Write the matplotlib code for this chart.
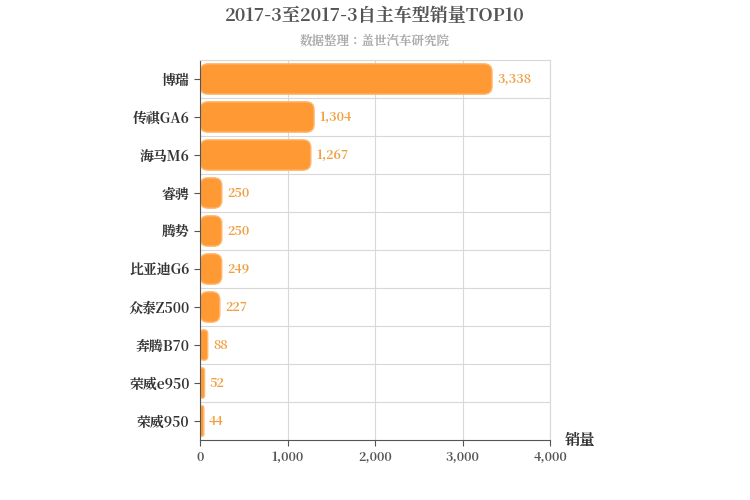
import matplotlib

matplotlib.use("Agg")

import matplotlib.pyplot as plt
from matplotlib import font_manager
from matplotlib.patches import FancyBboxPatch

cjk = [f.name for f in font_manager.fontManager.ttflist if "CJK" in f.name]
cjk_name = "Noto Sans CJK SC" if "Noto Sans CJK SC" in cjk else (cjk[0] if cjk else "DejaVu Sans")
plt.rcParams["font.family"] = [cjk_name, "DejaVu Sans"]

models = ["博瑞", "传祺GA6", "海马M6", "睿骋", "腾势", "比亚迪G6", "众泰Z500", "奔腾B70", "荣威e950", "荣威950"]
sales = [3338, 1304, 1267, 250, 250, 249, 227, 88, 52, 44]
xticks = [0, 1000, 2000, 3000, 4000]

fig = plt.figure(figsize=(7.5, 5), dpi=100)
ax = fig.add_axes([200 / 750, 60 / 500, 350 / 750, 380 / 500])

ypos = list(range(len(models)))
bars = ax.barh(ypos, sales, height=0.8, color="none")
ax.set_xlim(0, 4000)
ax.set_ylim(len(models) - 0.5, -0.5)

# rounded bars drawn over the library-placed rectangles
xu = 4000 / 350
yu = len(models) / 380
for b in bars:
    x, y, w, h = b.get_x(), b.get_y(), b.get_width(), b.get_height()
    r = min(8 * xu, w / 2)
    p = FancyBboxPatch((x, y), w, h, boxstyle=f"round,pad=0,rounding_size={r}",
                       mutation_aspect=yu / xu, facecolor="#ff9933",
                       edgecolor="#ffb870", linewidth=1)
    ax.add_patch(p)
    b.remove()

for yi, v in zip(ypos, sales):
    ax.text(v + 60, yi, f"{v:,}", va="center", ha="left", fontsize=9,
            fontweight="bold", color="#f0a040")

ax.set_yticks(ypos)
ax.set_yticklabels(models, fontsize=10, fontweight="bold", color="#333333")
ax.set_xticks(xticks)
ax.set_xticklabels([f"{t:,}" for t in xticks], fontsize=9, fontweight="bold", color="#555555")
ax.grid(True, color="#d8d8d8", linewidth=0.8)
for yy in [i + 0.5 for i in ypos[:-1]]:
    ax.axhline(yy, color="#d8d8d8", linewidth=0.8, zorder=0)
ax.yaxis.grid(False)
ax.set_axisbelow(True)
for s in ["top", "right"]:
    ax.spines[s].set_color("#d8d8d8")
ax.spines["left"].set_color("#555555")
ax.spines["bottom"].set_color("#555555")
ax.tick_params(length=4, color="#555555")

fig.text(0.5, 1 - 16 / 500, "2017-3至2017-3自主车型销量TOP10", ha="center", va="center",
         fontsize=13, fontweight="bold", color="#555555")
fig.text(0.5, 1 - 41 / 500, "数据整理：盖世汽车研究院", ha="center", va="center",
         fontsize=9, fontweight="bold", color="#aaaaaa")
fig.text(565 / 750, 1 - 440 / 500, "销量", ha="left", va="center",
         fontsize=11, fontweight="bold", color="#333333")

fig.savefig("out.png", dpi=100)
